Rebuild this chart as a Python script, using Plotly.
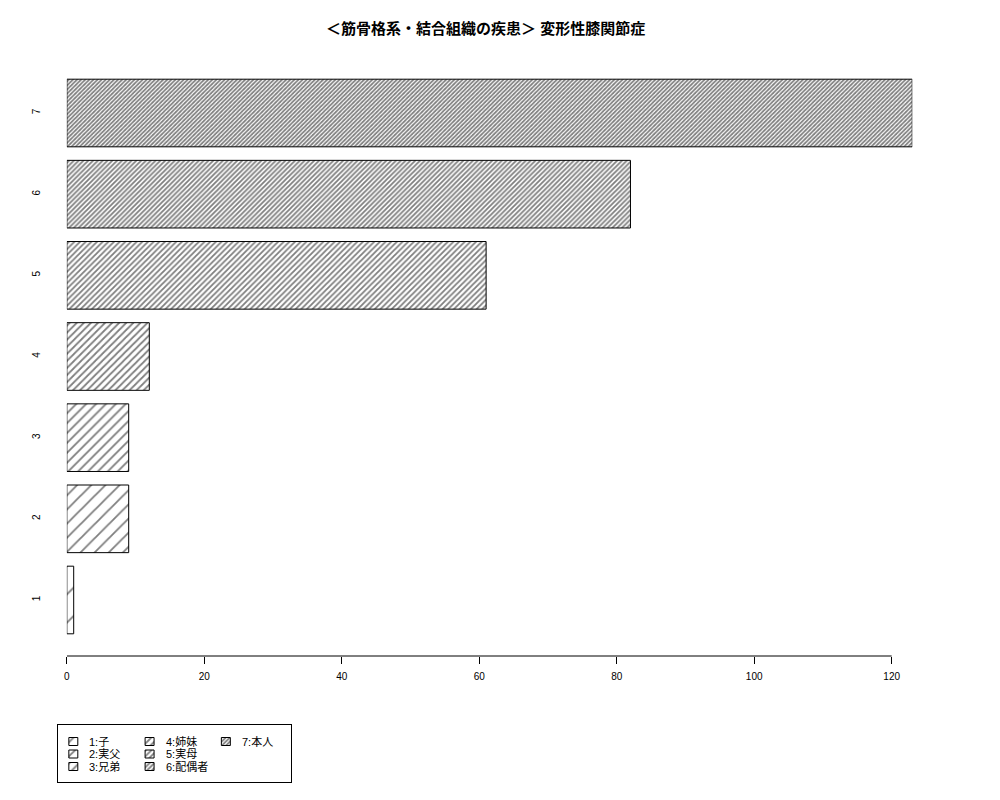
import plotly.graph_objects as go

# dados
categories = ["1", "2", "3", "4", "5", "6", "7"]
counts = [1, 9, 9, 12, 61, 82, 123]
legend_labels = ["1:子", "2:実父", "3:兄弟", "4:姉妹", "5:実母", "6:配偶者", "7:本人"]
x_ticks = [0, 20, 40, 60, 80, 100, 120]
title_text = "＜筋骨格系・結合組織の疾患＞ 変形性膝関節症"

# estilo das hachuras (densidade crescente, como no R)
hatch_size = [20, 10, 7, 5, 4, 3.4, 2.9]
hatch_solid = [min(1.8 / s, 0.6) for s in hatch_size]
font_family = "Liberation Sans, Noto Sans CJK JP, sans-serif"

W, H = 1000, 800
OFF_X, OFF_Y = 10, 8  # deslocamento da pagina


def px_x(p):
    return (p - OFF_X) / W


def px_y(p):
    return 1 - (p - OFF_Y) / H


fig = go.Figure()

# barras principais
fig.add_trace(
    go.Bar(
        y=categories,
        x=counts,
        orientation="h",
        marker=dict(
            color="white",
            line=dict(color="black", width=1),
            pattern=dict(
                shape="/",
                size=hatch_size,
                solidity=hatch_solid,
                fgcolor="black",
                bgcolor="white",
            ),
        ),
        showlegend=False,
        hoverinfo="x+y",
    )
)

# legenda desenhada a mao (caixas hachuradas num eixo auxiliar)
row_y = [16.5 + 12.5 * (i % 3) for i in range(len(legend_labels))]
col_x = [11 + 76.5 * (i // 3) for i in range(len(legend_labels))]
fig.add_trace(
    go.Bar(
        y=row_y,
        x=[9] * len(legend_labels),
        base=col_x,
        width=[8] * len(legend_labels),
        orientation="h",
        xaxis="x2",
        yaxis="y2",
        marker=dict(
            color="white",
            line=dict(color="black", width=1),
            pattern=dict(
                shape="/",
                size=hatch_size,
                solidity=hatch_solid,
                fgcolor="black",
                bgcolor="white",
            ),
        ),
        showlegend=False,
        hoverinfo="skip",
    )
)

annotations = [
    dict(
        x=col_x[i] + 18.5, y=row_y[i], xref="x2", yref="y2",
        text=lab, showarrow=False, xanchor="left", yanchor="middle",
        font=dict(size=11, color="black", family=font_family),
    )
    for i, lab in enumerate(legend_labels)
]
annotations.append(
    dict(
        x=px_x(485.5), y=px_y(29), xref="paper", yref="paper",
        text="<b>" + title_text + "</b>", showarrow=False,
        xanchor="center", yanchor="middle",
        font=dict(size=15, color="black", family=font_family),
    )
)

fig.update_layout(
    width=W,
    height=H,
    margin=dict(l=0, r=0, t=0, b=0),
    plot_bgcolor="white",
    paper_bgcolor="white",
    font=dict(family=font_family, color="black"),
    bargap=1 - 1 / 1.2,
    showlegend=False,
    xaxis=dict(
        domain=[px_x(66), px_x(914)],
        range=[0, 123],
        tickvals=x_ticks,
        ticks="outside",
        ticklen=7,
        tickcolor="black",
        tickfont=dict(size=10),
        ticklabelstandoff=4,
        showline=False,
        showgrid=False,
        zeroline=False,
        anchor="y",
    ),
    yaxis=dict(
        domain=[px_y(656), px_y(57)],
        type="category",
        range=[-0.69, 6.69],
        tickangle=-90,
        ticks="",
        tickfont=dict(size=10),
        ticklabelstandoff=24,
        showline=False,
        showgrid=False,
        zeroline=False,
        anchor="x",
    ),
    xaxis2=dict(
        domain=[px_x(57), px_x(291)],
        range=[0, 234],
        showline=True, mirror=True, linecolor="black", linewidth=1,
        showticklabels=False, ticks="", showgrid=False, zeroline=False,
        anchor="y2",
    ),
    yaxis2=dict(
        domain=[px_y(782), px_y(725)],
        range=[57, 0],
        showline=True, mirror=True, linecolor="black", linewidth=1,
        showticklabels=False, ticks="", showgrid=False, zeroline=False,
        anchor="x2",
    ),
    shapes=[
        dict(
            type="line", xref="x", yref="paper",
            x0=x_ticks[0], x1=x_ticks[-1], y0=px_y(656), y1=px_y(656),
            line=dict(color="black", width=1),
        )
    ],
    annotations=annotations,
)

fig.write_html("out.html")
